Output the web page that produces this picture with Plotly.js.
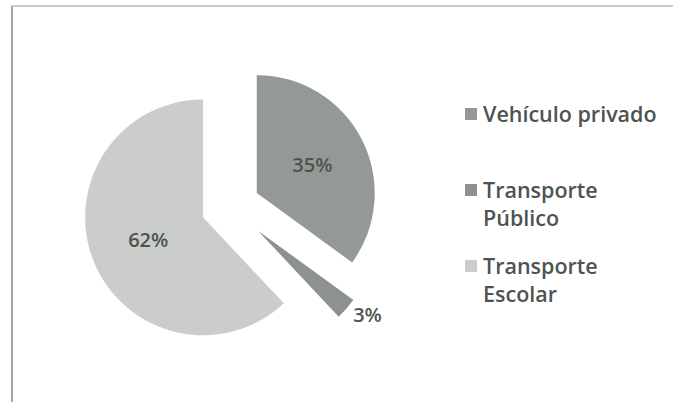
<!DOCTYPE html>
<html>
<head>
<meta charset="utf-8">
<script src="https://cdn.plot.ly/plotly-3.0.1.min.js"></script>
<style>html,body{margin:0;padding:0;background:#fff;}#chart{width:673px;height:402px;}</style>
</head>
<body>
<div id="chart"></div>
<script>
// Data
var labels = ['Vehículo privado', 'Transporte Público', 'Transporte Escolar'];
var values = [35, 3, 62];
var legendText = ['Vehículo privado', 'Transporte<br>Público', 'Transporte<br>Escolar'];

// Styles
var colors = ['#939a95', '#8d918f', '#cbcdcb'];
var pulls = [0.25, 0.31, 0.25];
var W = 673, H = 402;
function px(x) { return x / W; }
function py(y) { return 1 - y / H; }

var font = '"Open Sans", Lato, sans-serif';
var txtColor = '#4d544f';

var trace = {
  type: 'pie',
  labels: labels,
  values: values,
  sort: false,
  direction: 'clockwise',
  rotation: 0,
  pull: pulls,
  marker: { colors: colors, line: { width: 0 } },
  textinfo: 'percent',
  textposition: ['inside', 'outside', 'inside'],
  insidetextorientation: 'horizontal',
  textfont: { family: font, size: 20, color: txtColor, weight: 600 },
  outsidetextfont: { family: font, size: 20, color: txtColor, weight: 600 },
  hoverinfo: 'label+percent',
  showlegend: false,
  domain: { x: [px(76), px(385)], y: [py(361), py(52)] }
};

var legendTop = [97, 173, 249];
var annotations = [];
var shapes = [];
for (var i = 0; i < legendText.length; i++) {
  annotations.push({
    xref: 'paper', yref: 'paper',
    x: px(481), y: py(legendTop[i]),
    xanchor: 'left', yanchor: 'top', align: 'left',
    showarrow: false,
    text: legendText[i],
    font: { family: font, size: 21.5, color: txtColor, weight: 600 }
  });
  shapes.push({
    type: 'rect', xref: 'paper', yref: 'paper',
    x0: px(465), x1: px(477),
    y0: py(legendTop[i] + 11), y1: py(legendTop[i] + 23),
    fillcolor: colors[i], line: { width: 0 }
  });
}
// frame
shapes.push({ type: 'line', xref: 'paper', yref: 'paper', x0: px(12), x1: px(12), y0: py(6), y1: py(402), line: { color: '#a3a6a4', width: 2 } });
shapes.push({ type: 'line', xref: 'paper', yref: 'paper', x0: px(11), x1: px(673), y0: py(6), y1: py(6), line: { color: '#b5b8b6', width: 1.5 } });

var layout = {
  width: W, height: H,
  margin: { l: 0, r: 0, t: 0, b: 0 },
  paper_bgcolor: '#ffffff',
  plot_bgcolor: '#ffffff',
  showlegend: false,
  annotations: annotations,
  shapes: shapes
};

Plotly.newPlot('chart', [trace], layout, { displayModeBar: false, staticPlot: true });
</script>
</body>
</html>
